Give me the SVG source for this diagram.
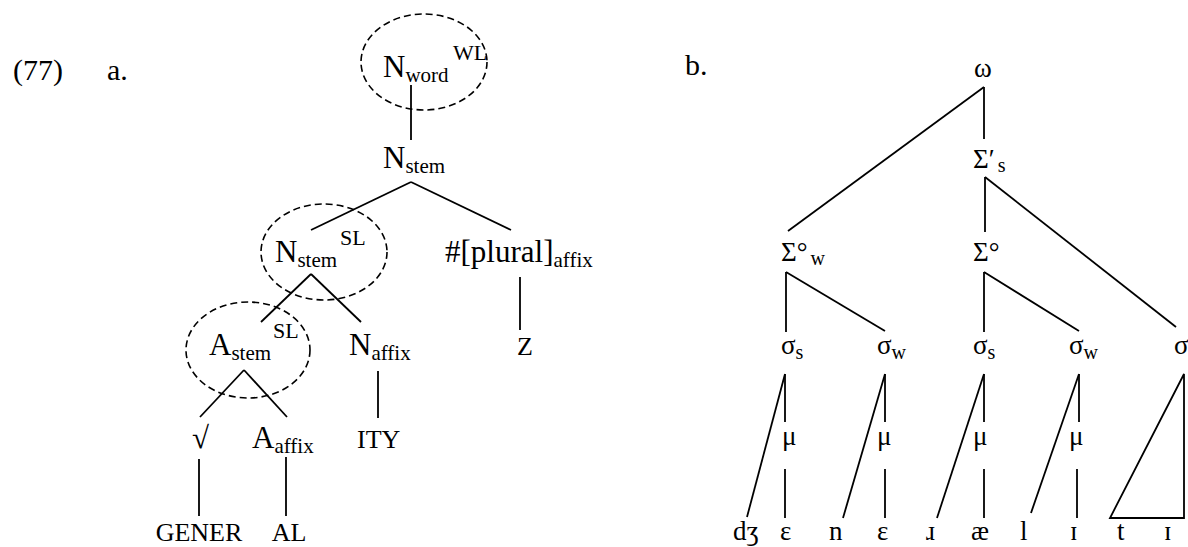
<svg xmlns="http://www.w3.org/2000/svg" width="1188" height="547" viewBox="0 0 1188 547">
<style>
text{font-family:"Liberation Serif","Times New Roman",serif;fill:#000}
.lab{font-size:30px}
.n{font-size:31px}
.sub{font-size:21px}
.sup{font-size:22px}
.sc{font-size:26px}
.b{font-size:27px}
.bs{font-size:20px}
.ell{fill:none;stroke:#000;stroke-width:1.6;stroke-dasharray:7 4}
#connectors line,#connectors polygon{stroke:#000;stroke-width:1.8;fill:none}
</style>
<rect width="1188" height="547" fill="#fff"/>
<g id="labels">
<text class="lab" x="13" y="80">(77)</text>
<text class="lab" x="107" y="80">a.</text>
<text class="lab" x="685" y="75">b.</text>
</g>
<g id="a-nword"><ellipse class="ell" cx="424" cy="62" rx="63" ry="48"/><text class="n" x="383" y="77">N<tspan class="sub" dy="5">word</tspan></text><text class="sup" x="453" y="60">WL</text></g>
<g id="a-nstem1"><text class="n" x="383" y="168">N<tspan class="sub" dy="5">stem</tspan></text></g>
<g id="a-nstem2"><ellipse class="ell" cx="324" cy="252" rx="63" ry="48"/><text class="n" x="275" y="262">N<tspan class="sub" dy="5">stem</tspan></text><text class="sup" x="340" y="245">SL</text></g>
<g id="a-plural"><text class="n" x="445" y="262">#[plural]<tspan class="sub" dy="5">affix</tspan></text></g>
<g id="a-astem"><ellipse class="ell" cx="248" cy="350" rx="62" ry="48"/><text class="n" x="209" y="355">A<tspan class="sub" dy="5">stem</tspan></text><text class="sup" x="273" y="338">SL</text></g>
<g id="a-naffix"><text class="n" x="349" y="355">N<tspan class="sub" dy="5">affix</tspan></text></g>
<g id="a-z"><text class="sc" x="517" y="355">Z</text></g>
<g id="a-root"><text class="n" x="192" y="448">√</text></g>
<g id="a-aaffix"><text class="n" x="252" y="448">A<tspan class="sub" dy="5">affix</tspan></text></g>
<g id="a-ity"><text class="sc" x="357" y="448">ITY</text></g>
<g id="a-gener"><text class="sc" x="199" y="541" text-anchor="middle">GENER</text></g>
<g id="a-al"><text class="sc" x="289" y="541" text-anchor="middle">AL</text></g>

<g id="b-omega"><text class="b" x="983" y="77" text-anchor="middle">ω</text></g>
<g id="b-Sigmas"><text class="b" x="973" y="168">Σ′<tspan class="bs" dx="3" dy="4">s</tspan></text></g>
<g id="b-Sigmaw"><text class="b" x="781" y="261">Σ°<tspan class="bs" dx="3" dy="4">w</tspan></text></g>
<g id="b-Sigma"><text class="b" x="973" y="261">Σ°</text></g>
<g id="b-s1"><text class="b" x="781" y="354">σ<tspan class="bs" dy="5">s</tspan></text></g>
<g id="b-s2"><text class="b" x="877" y="354">σ<tspan class="bs" dy="5">w</tspan></text></g>
<g id="b-s3"><text class="b" x="973" y="354">σ<tspan class="bs" dy="5">s</tspan></text></g>
<g id="b-s4"><text class="b" x="1069" y="354">σ<tspan class="bs" dy="5">w</tspan></text></g>
<g id="b-s5"><text class="b" x="1174" y="354">σ</text></g>
<g id="b-mu1"><text class="b" x="782" y="445">μ</text></g>
<g id="b-mu2"><text class="b" x="877" y="445">μ</text></g>
<g id="b-mu3"><text class="b" x="973" y="445">μ</text></g>
<g id="b-mu4"><text class="b" x="1069" y="445">μ</text></g>
<g id="b-segs">
<text class="b" x="733" y="540">dʒ</text>
<text class="b" x="780" y="540">ɛ</text>
<text class="b" x="829" y="540">n</text>
<text class="b" x="877" y="540">ɛ</text>
<text class="b" x="926" y="540">ɹ</text>
<text class="b" x="971" y="540">æ</text>
<text class="b" x="1020" y="540">l</text>
<text class="b" x="1070" y="540">ɪ</text>
<text class="b" x="1117" y="540">t</text>
<text class="b" x="1164" y="540">ɪ</text>
</g>

<g id="connectors">
<line x1="411" y1="85" x2="411" y2="140"/>
<line x1="411" y1="182" x2="311" y2="230"/>
<line x1="411" y1="182" x2="511" y2="230"/>
<line x1="311" y1="274" x2="261" y2="322"/>
<line x1="311" y1="274" x2="361" y2="322"/>
<line x1="378" y1="371" x2="378" y2="418"/>
<line x1="520" y1="277" x2="520" y2="330"/>
<line x1="244" y1="370" x2="200" y2="417"/>
<line x1="244" y1="370" x2="287" y2="417"/>
<line x1="199" y1="459" x2="199" y2="516"/>
<line x1="286" y1="457" x2="286" y2="516"/>

<line x1="984" y1="87" x2="984" y2="139"/>
<line x1="984" y1="87" x2="788" y2="231"/>
<line x1="985" y1="177" x2="985" y2="232"/>
<line x1="985" y1="177" x2="1176" y2="327"/>
<line x1="786" y1="272" x2="786" y2="332"/>
<line x1="786" y1="272" x2="885" y2="331"/>
<line x1="984" y1="272" x2="984" y2="332"/>
<line x1="984" y1="272" x2="1079" y2="331"/>
<line x1="785" y1="374" x2="785" y2="422"/>
<line x1="785" y1="374" x2="747" y2="517"/>
<line x1="785" y1="469" x2="785" y2="518"/>
<line x1="885" y1="374" x2="885" y2="422"/>
<line x1="885" y1="374" x2="843" y2="518"/>
<line x1="885" y1="469" x2="885" y2="518"/>
<line x1="984" y1="374" x2="984" y2="422"/>
<line x1="984" y1="374" x2="937" y2="518"/>
<line x1="984" y1="469" x2="984" y2="518"/>
<line x1="1079" y1="374" x2="1079" y2="422"/>
<line x1="1079" y1="374" x2="1031" y2="513"/>
<line x1="1077" y1="469" x2="1077" y2="518"/>
<polygon points="1184,374 1110,518 1184,518"/>
</g>
</svg>
